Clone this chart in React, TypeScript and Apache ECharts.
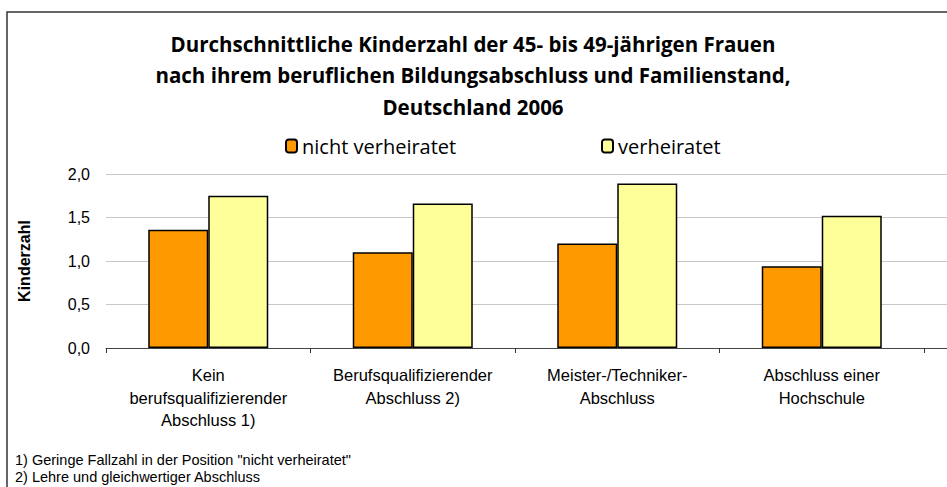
import React, { useEffect, useRef } from "react";
import * as echarts from "echarts";

const categories = [
  "Kein\nberufsqualifizierender\nAbschluss 1)",
  "Berufsqualifizierender\nAbschluss 2)",
  "Meister-/Techniker-\nAbschluss",
  "Abschluss einer\nHochschule",
];
const seriesNames = ["nicht verheiratet", "verheiratet"];
const nichtVerheiratet = [1.36, 1.1, 1.2, 0.94];
const verheiratet = [1.75, 1.66, 1.89, 1.52];
const titleText =
  "Durchschnittliche Kinderzahl der 45- bis 49-jährigen Frauen\nnach ihrem beruflichen Bildungsabschluss und Familienstand,\nDeutschland 2006";
const yAxisName = "Kinderzahl";
const footnotes = [
  '1) Geringe Fallzahl in der Position "nicht verheiratet"',
  "2) Lehre und gleichwertiger Abschluss",
];

export default function App() {
  const ref = useRef<HTMLDivElement>(null);
  useEffect(() => {
    document.body.style.margin = "0";
    if (!ref.current) return;
    const chart = echarts.init(ref.current, null, { renderer: "svg" });
    const top = 174;
    const bottom = 487 - 348;
    const legendText = { fontFamily: "Open Sans", fontSize: 20, color: "#000" };
    chart.setOption({
      animation: false,
      backgroundColor: "#ffffff",
      title: {
        text: titleText,
        left: 468,
        top: 23,
        textAlign: "center",
        textStyle: {
          fontFamily: "Open Sans",
          fontWeight: "bold",
          fontSize: 20.5,
          lineHeight: 31.5,
          color: "#000",
        },
      },
      legend: [
        {
          data: [seriesNames[0]],
          left: 280,
          top: 131,
          itemWidth: 11,
          itemHeight: 13,
          itemGap: 8,
          textStyle: legendText,
        },
        {
          data: [seriesNames[1]],
          left: 596,
          top: 131,
          itemWidth: 11,
          itemHeight: 13,
          itemGap: 8,
          textStyle: legendText,
        },
      ],
      grid: [
        { left: 106, right: 23, top, bottom, containLabel: false },
        { left: 106, right: 0, top, bottom, containLabel: false },
      ],
      xAxis: [
        {
          type: "category",
          gridIndex: 0,
          data: categories,
          axisLine: { show: false },
          axisTick: { show: true, length: 5, lineStyle: { color: "#333", width: 1 } },
          axisLabel: {
            interval: 0,
            margin: 16,
            fontFamily: "Liberation Sans",
            fontSize: 16.5,
            lineHeight: 22.5,
            color: "#000",
          },
        },
        {
          type: "category",
          gridIndex: 1,
          data: [""],
          axisLine: { show: true, lineStyle: { color: "#444", width: 1 } },
          axisTick: { show: false },
          axisLabel: { show: false },
        },
      ],
      yAxis: [
        {
          type: "value",
          gridIndex: 0,
          min: 0,
          max: 2,
          interval: 0.5,
          name: yAxisName,
          nameLocation: "middle",
          nameRotate: 90,
          nameGap: 74,
          nameTextStyle: {
            fontFamily: "Liberation Sans",
            fontWeight: "bold",
            fontSize: 16,
            color: "#000",
          },
          axisLine: { show: false },
          axisTick: { show: false },
          splitLine: { show: false },
          axisLabel: {
            margin: 16,
            fontFamily: "Liberation Sans",
            fontSize: 16,
            color: "#000",
            formatter: (v: number) => v.toFixed(1).replace(".", ","),
          },
        },
        {
          type: "value",
          gridIndex: 1,
          min: 0,
          max: 2,
          interval: 0.5,
          axisLine: { show: false },
          axisTick: { show: false },
          axisLabel: { show: false },
          splitLine: { show: true, lineStyle: { color: "#c8c8c8", width: 1 } },
        },
      ],
      series: [
        {
          name: seriesNames[0],
          type: "bar",
          xAxisIndex: 0,
          yAxisIndex: 0,
          data: nichtVerheiratet,
          barWidth: 60,
          barGap: "0%",
          itemStyle: { color: "#FF9900", borderColor: "#000", borderWidth: 1.5 },
        },
        {
          name: seriesNames[1],
          type: "bar",
          xAxisIndex: 0,
          yAxisIndex: 0,
          data: verheiratet,
          barWidth: 60,
          barGap: "0%",
          itemStyle: { color: "#FFFF99", borderColor: "#000", borderWidth: 1.5 },
        },
      ],
      graphic: [
        {
          type: "rect",
          shape: { x: 7, y: 12, width: 1000, height: 600 },
          style: { fill: "none", stroke: "#333", lineWidth: 1.5 },
          silent: true,
          z: 100,
        },
        {
          type: "text",
          left: 15,
          top: 452,
          style: {
            text: footnotes[0],
            fontFamily: "Liberation Sans",
            fontSize: 14.5,
            fill: "#000",
          },
        },
        {
          type: "text",
          left: 15,
          top: 469,
          style: {
            text: footnotes[1],
            fontFamily: "Liberation Sans",
            fontSize: 14.5,
            fill: "#000",
          },
        },
      ],
    });
    return () => chart.dispose();
  }, []);
  return <div ref={ref} style={{ width: 947, height: 487 }} />;
}
